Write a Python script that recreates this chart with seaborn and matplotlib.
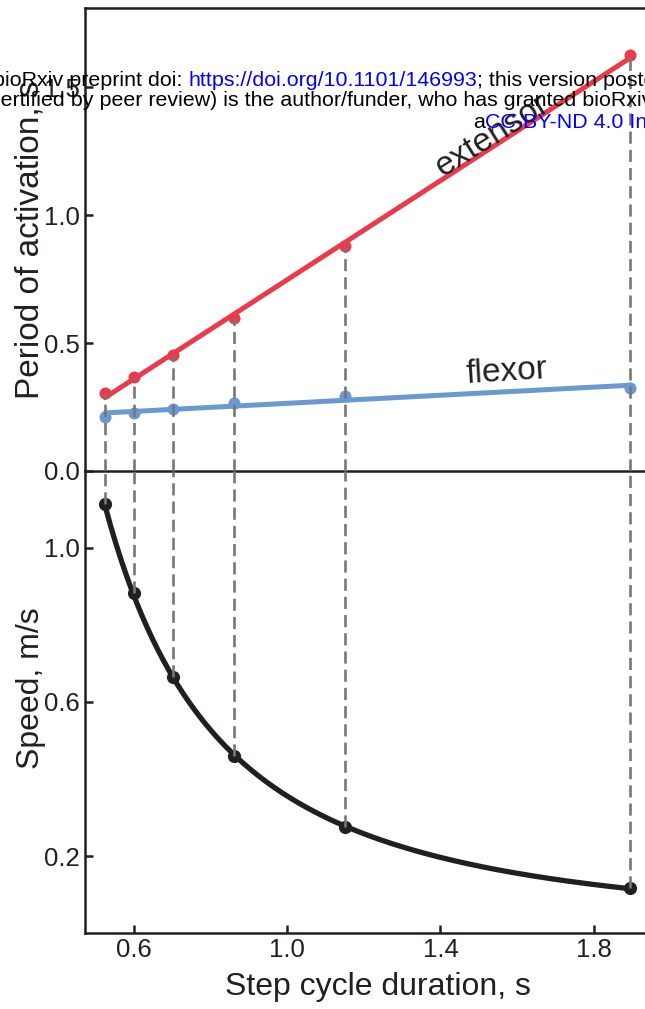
import numpy as np
import matplotlib.pyplot as plt
import seaborn as sns

# values
duration = [0.526, 0.600, 0.702, 0.861, 1.151, 1.894]
extensor = [0.304, 0.366, 0.453, 0.598, 0.879, 1.625]
flexor = [0.211, 0.227, 0.244, 0.265, 0.295, 0.324]
speed = [1.115, 0.883, 0.664, 0.461, 0.275, 0.116]

period_ticks = [0.0, 0.5, 1.0, 1.5]
speed_ticks = [0.2, 0.6, 1.0]
duration_ticks = [0.6, 1.0, 1.4, 1.8]

RED = "#ea3b4c"
BLUE = "#6a98d2"
INK = "#231f20"
DASH = "#777777"
LINK = "#0000ff"

W, H = 645, 1009
PX_PER_S = 383.75
X0 = 1.0 - (287 - 85) / PX_PER_S
X1 = 2.0
DASHES = (0, (4.6, 2.3))


def box(left, top, right, bottom):
    return [left / W, 1 - bottom / H, (right - left) / W, (bottom - top) / H]


def header_line(parts, x_px, y_px, size=15.4):
    txt, col = parts[0]
    prev = fig.text(x_px / W, 1 - y_px / H, txt, color=col, fontsize=size,
                    ha="left", va="center", zorder=10)
    for txt, col in parts[1:]:
        prev = fig.axes[0].annotate(txt, xy=(1, 0), xycoords=prev, color=col,
                                    fontsize=size, ha="left", va="bottom",
                                    annotation_clip=False, zorder=10)


sns.set_theme(style="ticks")
plt.rcParams["font.family"] = ["Liberation Sans", "DejaVu Sans"]

fig = plt.figure(figsize=(W / 100, H / 100), dpi=100)
right_px = 85 + (X1 - X0) * PX_PER_S
ax_top = fig.add_axes(box(85, 8, right_px, 471))
ax_bot = fig.add_axes(box(85, 471, right_px, 933), sharex=ax_top)

# top panel: periods of activation with linear fits
sns.regplot(x=duration, y=extensor, ax=ax_top, ci=None, color=RED,
            scatter_kws=dict(s=75, linewidths=0, alpha=1), line_kws=dict(lw=3.6))
sns.regplot(x=duration, y=flexor, ax=ax_top, ci=None, color=BLUE,
            scatter_kws=dict(s=75, linewidths=0, alpha=1), line_kws=dict(lw=3.6))
ax_top.vlines(duration, 0, extensor, colors=DASH, linestyles=DASHES,
              lw=1.9, zorder=5)
ax_top.text(1.534, 1.31, "extensor", rotation=32, rotation_mode="anchor",
            ha="center", va="center", fontsize=24, color=INK)
ax_top.text(1.573, 0.385, "flexor", rotation=3.5, rotation_mode="anchor",
            ha="center", va="center", fontsize=24, color=INK)

# bottom panel: speed with power-law fit
coef = np.polyfit(np.log(duration), np.log(speed), 1)
x_fit = np.linspace(min(duration), max(duration), 200)
y_fit = np.exp(np.polyval(coef, np.log(x_fit)))
sns.lineplot(x=x_fit, y=y_fit, ax=ax_bot, color=INK, lw=3.8)
sns.scatterplot(x=duration, y=speed, ax=ax_bot, color=INK, s=90,
                linewidth=0, zorder=3)
ax_bot.vlines(duration, speed, 1.2, colors=DASH, linestyles=DASHES,
              lw=1.9, zorder=5)

ax_top.set_xlim(X0, X1)
ax_top.set_ylim(0, 1.81)
ax_bot.set_ylim(0, 1.2)
ax_top.set_yticks(period_ticks)
ax_bot.set_yticks(speed_ticks)
ax_bot.set_xticks(duration_ticks)
ax_top.yaxis.set_major_formatter(plt.FormatStrFormatter("%.1f"))
ax_bot.yaxis.set_major_formatter(plt.FormatStrFormatter("%.1f"))
ax_bot.xaxis.set_major_formatter(plt.FormatStrFormatter("%.1f"))

for ax in (ax_top, ax_bot):
    for side in ax.spines.values():
        side.set_linewidth(1.8)
        side.set_color(INK)
    ax.spines["right"].set_visible(False)
    ax.tick_params(direction="in", length=6, width=1.8, color=INK,
                   labelsize=18.5, labelcolor=INK, pad=3.5)
    ax.set_facecolor("none")
ax_bot.spines["top"].set_visible(False)
ax_top.tick_params(axis="x", bottom=False, labelbottom=False)

ax_top.set_ylabel("Period of activation, s", fontsize=24, color=INK, labelpad=-1)
ax_bot.set_ylabel("Speed, m/s", fontsize=23, color=INK)
ax_bot.yaxis.set_label_coords(-0.067, 0.53)
ax_bot.set_xlabel("Step cycle duration, s", fontsize=23, color=INK, labelpad=7)

# preprint banner overlaid on the page
header_line([("bioRxiv preprint doi: ", "black"),
             ("https://doi.org/10.1101/146993", LINK),
             ("; this version posted June 6, 2017. The copyright holder for this preprint (which was not", "black")],
            -7, 80)
header_line([("certified by peer review) is the author/funder, who has granted bioRxiv a license to display the preprint in perpetuity. It is made available under", "black")],
            -10, 100)
header_line([("a", "black"), ("CC-BY-ND 4.0 International license", LINK),
             (".", "black")], 473, 122)

fig.savefig("out.png", dpi=100)
